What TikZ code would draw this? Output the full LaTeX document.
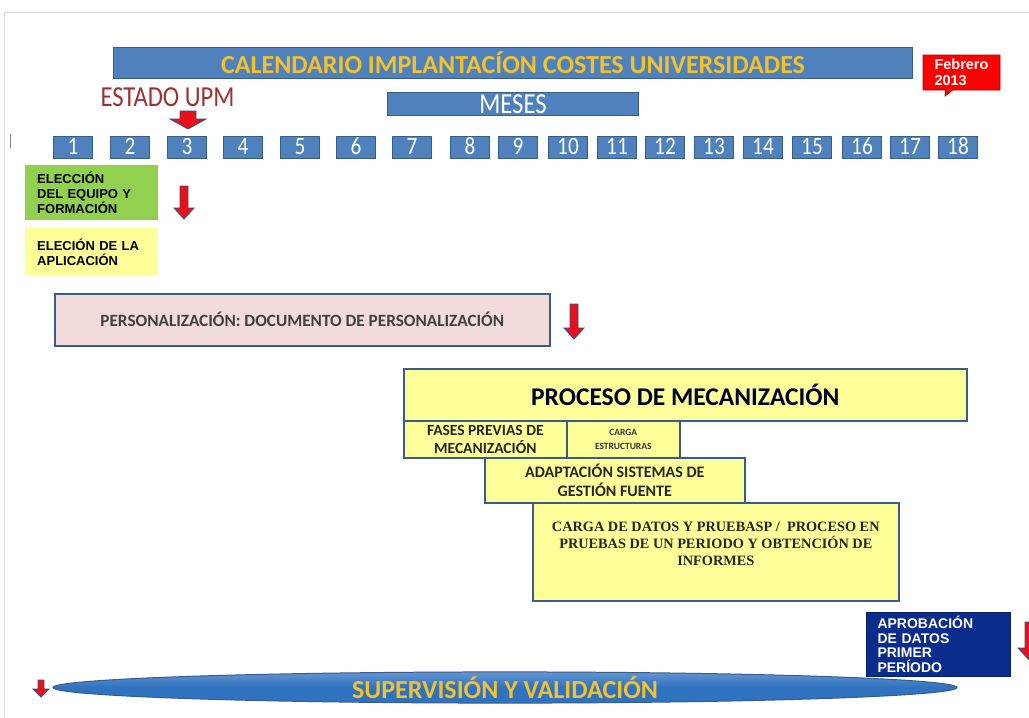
\documentclass[tikz,border=0pt]{standalone}
\usepackage{fontspec}
\setmainfont{Carlito}
\newfontfamily\condfont[FakeStretch=0.85]{Carlito}
\newfontfamily\arialfont{Liberation Sans}
\newfontfamily\timesfont{Liberation Serif}
\usepackage{tikz}
\usetikzlibrary{arrows.meta, positioning, shapes.geometric, shapes.callouts, calc}

\definecolor{barblue}{HTML}{4F81BD}
\definecolor{barline}{HTML}{385D8A}
\definecolor{goldtext}{HTML}{F2C12E}
\definecolor{arrowred}{HTML}{E8101A}
\definecolor{arrowline}{HTML}{34508C}
\definecolor{estadored}{HTML}{A0302E}
\definecolor{greenbox}{HTML}{92D050}
\definecolor{paleyellow}{HTML}{FFFF99}
\definecolor{pinkbox}{HTML}{F2DCDB}
\definecolor{navybox}{HTML}{0A2C8C}
\definecolor{ellblue}{HTML}{2F72C0}
\definecolor{framegray}{HTML}{D8D8D8}

% block arrow pointing down: x, ytop, length, head length, shaft half width, head half width
\newcommand{\blockdown}[6]{%
  \filldraw[draw=arrowline, fill=arrowred, line width=0.8pt, line join=miter]
    (#1-#5,#2) -- (#1+#5,#2) -- (#1+#5,#2+#3-#4) -- (#1+#6,#2+#3-#4)
    -- (#1,#2+#3) -- (#1-#6,#2+#3-#4) -- (#1-#5,#2+#3-#4) -- cycle;}

\begin{document}
\begin{tikzpicture}[
    x=1pt, y=-1pt,
    bar/.style={rectangle, draw=barline, fill=barblue, line width=1pt, inner sep=0pt},
    month/.style={bar, minimum width=39pt, minimum height=22pt, text height=16pt, text depth=2pt,
                  text=white, font=\condfont\fontsize{25}{25}\selectfont},
    phase/.style={rectangle, draw=barline, fill=paleyellow, line width=1.6pt, inner sep=0pt, anchor=north west, align=center},
    task/.style={rectangle, inner sep=0pt, anchor=north west, align=left, font=\arialfont\bfseries\fontsize{13}{14.8}\selectfont}
]
\useasboundingbox (0,0) rectangle (1029,718);
\fill[white] (0,0) rectangle (1029,718);
\draw[framegray, line width=1pt] (4,718) -- (4,12) -- (1029,12);
\draw[gray, line width=1pt] (10,134) -- (10,148);

% title and months
\node[bar, minimum width=799pt, minimum height=31pt, anchor=north west, text=goldtext,
      font=\bfseries\fontsize{26}{26}\selectfont] (title) at (113,47)
      {CALENDARIO IMPLANTACÍON COSTES UNIVERSIDADES};
\node[rectangle callout, fill=red, draw=red!75!black, line width=0.8pt, inner sep=0pt,
      minimum width=77pt, minimum height=35pt, callout absolute pointer={(945,96)},
      text=white, align=left, font=\arialfont\bfseries\fontsize{14.5}{16.5}\selectfont] (feb) at (961.5,72.5)
      {Febrero\\2013};
\node[text=estadored, inner sep=0pt, font=\condfont\fontsize{29}{29}\selectfont] (upm) at (167.5,97) {ESTADO UPM};
\node[bar, minimum width=251pt, minimum height=23pt, anchor=north west, text=white,
      font=\condfont\fontsize{29}{29}\selectfont] (meses) at (387,92) {MESES};

\foreach \cx [count=\i] in {73,130,187,243,300,356,412,470,518,568,617,665,714,763,812,862,910,958}
  \node[month] (m\i) at (\cx,147) {\i};

\blockdown{188}{111}{18}{10}{8}{18}

% first steps
\node[task, fill=greenbox, minimum width=133pt, minimum height=55pt, text width=109pt] (equipo) at (25,165)
      {ELECCIÓN\\DEL EQUIPO Y\\FORMACIÓN};
\node[task, fill=paleyellow, minimum width=133pt, minimum height=48pt, text width=109pt] (aplic) at (25,228)
      {ELECIÓN DE LA\\APLICACIÓN};
\blockdown{184}{186}{33}{11}{4}{10}

\node[rectangle, draw=barline, fill=pinkbox, line width=1.6pt, anchor=north west, inner sep=0pt,
      minimum width=495pt, minimum height=52pt, text=black!75,
      font=\bfseries\fontsize{17.2}{17}\selectfont] (perso) at (54,293)
      {PERSONALIZACIÓN: DOCUMENTO DE PERSONALIZACIÓN};
\blockdown{574}{304}{35}{11}{4}{10}

% mechanisation
\node[phase, minimum width=563pt, minimum height=52pt, text=black!85!blue,
      font=\bfseries\fontsize{25.5}{25}\selectfont] (proc) at (403,368) {PROCESO DE MECANIZACIÓN};
\node[phase, minimum width=163pt, minimum height=37pt, text=black!85,
      font=\bfseries\fontsize{15.5}{17.5}\selectfont] (fases) at (403,420) {FASES PREVIAS DE\\MECANIZACIÓN};
\node[phase, minimum width=113pt, minimum height=37pt, text=black!80,
      font=\bfseries\fontsize{9.5}{14}\selectfont] (estr) at (566,420) {CARGA\\ESTRUCTURAS};
\node[phase, minimum width=260pt, minimum height=45pt, text=black!85,
      font=\bfseries\fontsize{16}{19}\selectfont] (adapt) at (484,457) {ADAPTACIÓN SISTEMAS DE\\GESTIÓN FUENTE};
\node[phase, minimum width=366pt, minimum height=98pt, text=black!85] (carga) at (532,502) {};
\node[align=center, inner sep=0pt, text=black!85,
      font=\timesfont\bfseries\fontsize{14.3}{17}\selectfont] (cargatxt) at (carga.center |- 0,544)
      {CARGA DE DATOS Y PRUEBASP /\ \ PROCESO EN\\PRUEBAS DE UN PERIODO Y OBTENCIÓN DE\\INFORMES};

% approval and supervision
\node[task, fill=navybox, draw=navybox!70!black, line width=1pt, text=white,
      minimum width=144pt, minimum height=64pt, text width=122pt,
      font=\arialfont\bfseries\fontsize{14}{14.6}\selectfont] (aprob) at (866,612)
      {APROBACIÓN\\DE DATOS\\PRIMER\\PERÍODO};
\blockdown{1031}{622}{40}{14}{6}{13}

\node[ellipse, top color=ellblue!75!white, bottom color=ellblue, middle color=ellblue, draw=barline, line width=1pt, inner sep=0pt,
      minimum width=904pt, minimum height=25pt, text=goldtext,
      font=\bfseries\fontsize{26}{26}\selectfont] (superv) at (505,687.5)
      {SUPERVISIÓN Y VALIDACIÓN};
\blockdown{41}{680}{17}{8}{3}{8}
\end{tikzpicture}
\end{document}
